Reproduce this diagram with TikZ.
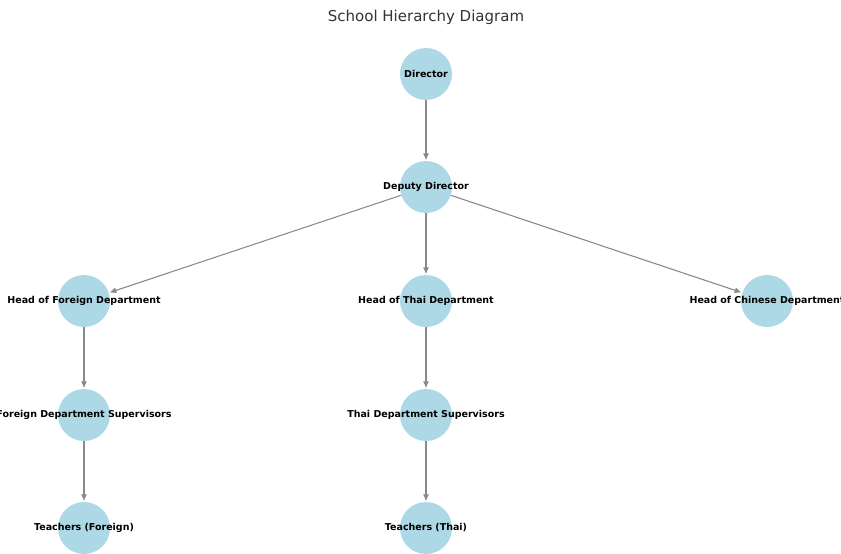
\documentclass[tikz,border=0pt]{standalone}
\usepackage{fontspec}
\setmainfont{DejaVu Sans}
\usetikzlibrary{arrows.meta}
\definecolor{nodeblue}{HTML}{ADD8E6}
\definecolor{edgegray}{HTML}{8A8A8A}
\definecolor{titlegray}{HTML}{333333}
\tikzset{
  vertex/.style={circle, fill=nodeblue, draw=none, minimum size=52pt, inner sep=0pt},
  lbl/.style={font=\fontsize{9.5}{11}\selectfont\bfseries, text=black, inner sep=0pt},
  edge/.style={draw=edgegray, line width=1.1pt, -{Latex[length=7pt,width=6pt]}, shorten >=0.5pt}
}
\begin{document}
\begin{tikzpicture}[x=1pt,y=-1pt]
\useasboundingbox (0,0) rectangle (841,554);
\clip (0,0) rectangle (841,554);
\node[font=\fontsize{15}{18}\selectfont, text=titlegray] (title) at (426,17) {School Hierarchy Diagram};
\node[vertex] (dir) at (426,74) {};
\node[vertex] (dep) at (426,187) {};
\node[vertex] (hf) at (84,301) {};
\node[vertex] (ht) at (426,301) {};
\node[vertex] (hc) at (767,301) {};
\node[vertex] (sf) at (84,415) {};
\node[vertex] (st) at (426,415) {};
\node[vertex] (tf) at (84,528) {};
\node[vertex] (tt) at (426,528) {};
\draw[edge] (dir) -- (dep);
\draw[edge] (dep) -- (hf);
\draw[edge] (dep) -- (ht);
\draw[edge] (dep) -- (hc);
\draw[edge] (hf) -- (sf);
\draw[edge] (ht) -- (st);
\draw[edge] (sf) -- (tf);
\draw[edge] (st) -- (tt);
\node[lbl] (ldir) at (dir) {Director};
\node[lbl] (ldep) at (dep) {Deputy Director};
\node[lbl] (lhf) at (hf) {Head of Foreign Department};
\node[lbl] (lht) at (ht) {Head of Thai Department};
\node[lbl] (lhc) at (hc) {Head of Chinese Department};
\node[lbl] (lsf) at (sf) {Foreign Department Supervisors};
\node[lbl] (lst) at (st) {Thai Department Supervisors};
\node[lbl] (ltf) at (tf) {Teachers (Foreign)};
\node[lbl] (ltt) at (tt) {Teachers (Thai)};
\end{tikzpicture}
\end{document}
